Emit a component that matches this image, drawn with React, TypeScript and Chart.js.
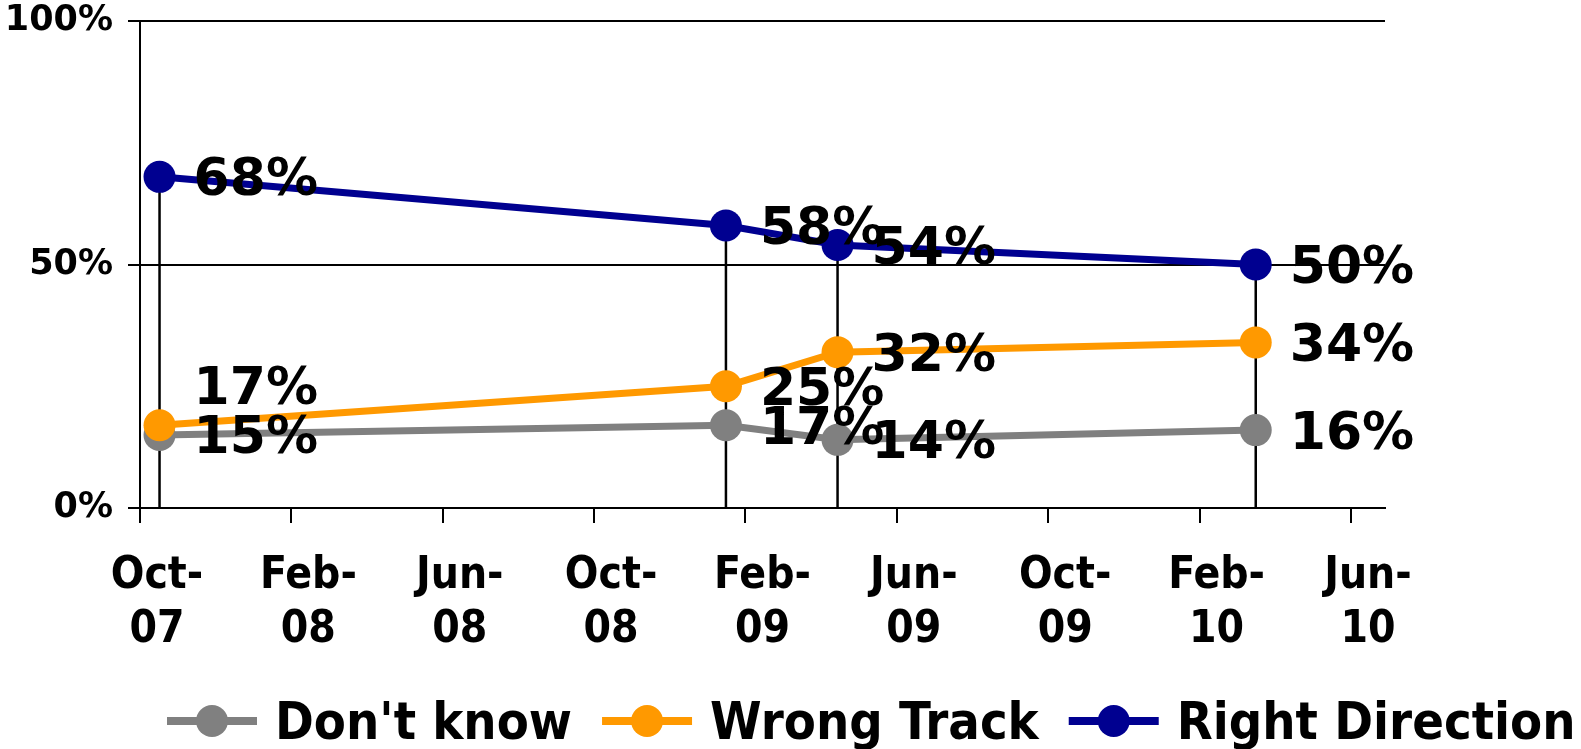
import React, { useEffect, useRef } from "react";
import { Chart, registerables } from "chart.js";

Chart.register(...registerables);

// ---- data ----
const surveyDates = ["2007-10-17", "2009-01-16", "2009-04-14", "2010-03-16"];
const dontKnow = [15, 17, 14, 16];
const wrongTrack = [17, 25, 32, 34];
const rightDirection = [68, 58, 54, 50];
const seriesNames = ["Don't know", "Wrong Track", "Right Direction"];
const seriesColors = ["#808080", "#FF9900", "#000090"];
const xTickLabels = ["Oct-07", "Feb-08", "Jun-08", "Oct-08", "Feb-09", "Jun-09", "Oct-09", "Feb-10", "Jun-10"];
const yTickValues = [0, 50, 100];
const axisStart = "2007-10-01";
const axisEnd = "2010-06-28";
const tickStepMonths = 4;

// manual label nudges (series index, point index) -> vertical shift in px
const labelNudges: Record<string, number> = { "1-0": -40 };

const FONT_C = '"DejaVu Sans Condensed", "DejaVu Sans", sans-serif';
const FONT = '"DejaVu Sans", sans-serif';
const W = 1581;
const H = 749;

function monthsSinceStart(iso: string): number {
  const [y, m, d] = iso.split("-").map(Number);
  const [y0, m0] = axisStart.split("-").map(Number);
  const dim = new Date(y, m, 0).getDate();
  return (y - y0) * 12 + (m - m0) + (d - 1) / dim;
}

const seriesValues = [dontKnow, wrongTrack, rightDirection];

const dropLinesPlugin = {
  id: "dropLines",
  beforeDatasetsDraw(chart: any) {
    const { ctx, scales } = chart;
    const xs = scales.x;
    const ys = scales.y;
    ctx.save();
    ctx.strokeStyle = "#000";
    ctx.lineWidth = 2.5;
    surveyDates.forEach((d, i) => {
      const top = Math.max(...seriesValues.map((s) => s[i]));
      const px = xs.getPixelForValue(monthsSinceStart(d));
      ctx.beginPath();
      ctx.moveTo(px, ys.getPixelForValue(top));
      ctx.lineTo(px, ys.getPixelForValue(0));
      ctx.stroke();
    });
    ctx.restore();
  },
};

const dataLabelsPlugin = {
  id: "dataLabels",
  afterDatasetsDraw(chart: any) {
    const { ctx } = chart;
    ctx.save();
    ctx.font = `bold 52px ${FONT}`;
    ctx.fillStyle = "#000";
    ctx.textAlign = "left";
    ctx.textBaseline = "middle";
    chart.data.datasets.forEach((ds: any, di: number) => {
      const meta = chart.getDatasetMeta(di);
      meta.data.forEach((pt: any, i: number) => {
        const nudge = labelNudges[`${di}-${i}`] || 0;
        ctx.fillText(`${ds.data[i].y}%`, pt.x + 34, pt.y + 5 + nudge);
      });
    });
    ctx.restore();
  },
};

const lineLegendPlugin = {
  id: "lineLegend",
  afterDraw(chart: any) {
    const { ctx } = chart;
    ctx.save();
    ctx.font = `bold 52px ${FONT_C}`;
    ctx.textBaseline = "middle";
    ctx.textAlign = "left";
    let x = 167;
    const y = 721;
    chart.data.datasets.forEach((ds: any) => {
      ctx.strokeStyle = ds.borderColor;
      ctx.lineWidth = 8;
      ctx.beginPath();
      ctx.moveTo(x, y);
      ctx.lineTo(x + 90, y);
      ctx.stroke();
      ctx.fillStyle = ds.borderColor;
      ctx.beginPath();
      ctx.arc(x + 45, y, 16, 0, Math.PI * 2);
      ctx.fill();
      ctx.fillStyle = "#000";
      ctx.fillText(ds.label, x + 108, y + 4);
      x += 108 + ctx.measureText(ds.label).width + 30;
    });
    ctx.restore();
  },
};

export default function App() {
  const ref = useRef<HTMLCanvasElement | null>(null);

  useEffect(() => {
    if (!ref.current) return;
    const datasets = seriesNames.map((name, si) => ({
      label: name,
      data: surveyDates.map((d, i) => ({ x: monthsSinceStart(d), y: seriesValues[si][i] })),
      borderColor: seriesColors[si],
      backgroundColor: seriesColors[si],
      pointBackgroundColor: seriesColors[si],
      pointBorderWidth: 0,
      pointRadius: 16,
      borderWidth: 7,
      tension: 0,
      order: seriesNames.length - si,
    }));

    const chart = new Chart(ref.current, {
      type: "line",
      data: { datasets },
      options: {
        responsive: false,
        animation: false,
        events: [],
        layout: { padding: { top: 21, right: W - 1385, left: 0, bottom: 0 } },
        plugins: {
          legend: { display: false },
          tooltip: { enabled: false },
        },
        scales: {
          x: {
            type: "linear",
            min: 0,
            max: monthsSinceStart(axisEnd),
            afterBuildTicks: (scale: any) => {
              scale.ticks = xTickLabels.map((_, i) => ({ value: i * tickStepMonths }));
            },
            afterFit: (scale: any) => {
              scale.height = H - 508;
              scale.paddingLeft = 0;
              scale.paddingRight = 0;
            },
            ticks: {
              autoSkip: false,
              maxRotation: 0,
              minRotation: 0,
              padding: 27,
              labelOffset: 17,
              color: "#000",
              font: { family: FONT_C, size: 44, weight: "bold", lineHeight: 54 / 44 },
              callback: (v: any) => {
                const lbl = xTickLabels[Math.round(Number(v) / tickStepMonths)] || "";
                const [a, b] = lbl.split("-");
                return [a + "-", b];
              },
            },
            grid: {
              drawOnChartArea: false,
              drawTicks: true,
              tickLength: 15,
              color: "#000",
              lineWidth: 2,
            },
            border: { display: true, color: "#000", width: 2 },
          },
          y: {
            min: 0,
            max: 100,
            afterBuildTicks: (scale: any) => {
              scale.ticks = yTickValues.map((v) => ({ value: v }));
            },
            afterFit: (scale: any) => {
              scale.width = 140;
              scale.paddingTop = 0;
              scale.paddingBottom = 0;
            },
            ticks: {
              padding: 15,
              color: "#000",
              font: { family: FONT, size: 35, weight: "bold" },
              callback: (v: any) => `${v}%`,
            },
            grid: {
              color: "#000",
              lineWidth: 2,
              drawTicks: true,
              tickLength: 12,
            },
            border: { display: true, color: "#000", width: 2 },
          },
        },
      },
      plugins: [dropLinesPlugin, dataLabelsPlugin, lineLegendPlugin],
    } as any);

    return () => chart.destroy();
  }, []);

  return (
    <canvas
      ref={ref}
      width={W}
      height={H}
      style={{ position: "absolute", left: 0, top: 0, width: W, height: H, background: "#fff" }}
    />
  );
}
